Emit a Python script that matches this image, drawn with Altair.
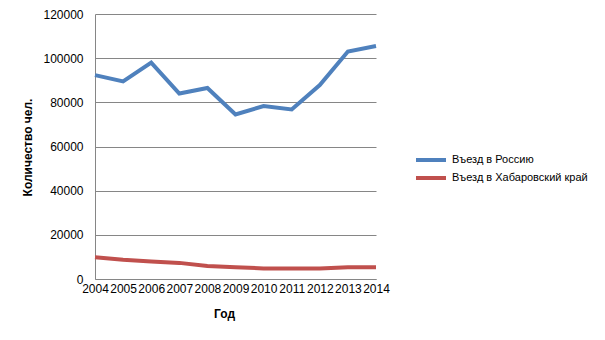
import altair as alt
import pandas as pd

years = [str(y) for y in range(2004, 2015)]
russia = [92300, 89500, 98000, 84000, 86500, 74500, 78300, 76800, 87800, 103000, 105500]
khabarovsk = [9800, 8700, 7900, 7300, 5900, 5300, 4800, 4800, 4800, 5300, 5300]
series_names = ["Въезд в Россию", "Въезд в Хабаровский край"]
colors = ["#4F81BD", "#C0504D"]

rows = []
for y, a, b in zip(years, russia, khabarovsk):
    rows.append({"Год": y, "Серия": series_names[0], "Значение": a})
    rows.append({"Год": y, "Серия": series_names[1], "Значение": b})
df = pd.DataFrame(rows)

font = "Liberation Sans"

chart = alt.Chart(df).mark_line(strokeWidth=4).encode(
    x=alt.X("Год:O", scale=alt.Scale(type="point", padding=0),
            axis=alt.Axis(title="Год", labelAngle=0, labelOverlap=False, ticks=False,
                          domainColor="#868686", labelFontSize=12, labelFont=font,
                          labelColor="#000000", labelPadding=4,
                          titleFont=font, titleFontSize=12, titleFontWeight="bold",
                          titleColor="#000000", titleX=129, titleY=34,
                          titleBaseline="middle")),
    y=alt.Y("Значение:Q", scale=alt.Scale(domain=[0, 120000], nice=False),
            axis=alt.Axis(title="Количество чел.", values=[0, 20000, 40000, 60000, 80000, 100000, 120000],
                          format="d",
                          ticks=False, domainColor="#868686", gridColor="#868686",
                          labelFontSize=12, labelFont=font, labelColor="#000000", labelPadding=12,
                          titleFont=font, titleFontSize=12, titleFontWeight="bold",
                          titleColor="#000000", titleX=-68, titleY=133,
                          titleBaseline="middle", titleAngle=270)),
    color=alt.Color("Серия:N", scale=alt.Scale(domain=series_names, range=colors),
                    legend=alt.Legend(title=None, orient="none", legendX=319, legendY=137,
                                      symbolType="stroke", symbolStrokeWidth=4, symbolSize=900,
                                      clipHeight=18, labelOffset=4,
                                      labelFont=font, labelFontSize=11, labelColor="#000000",
                                      rowPadding=0)),
).properties(
    width=281, height=265,
    autosize=alt.AutoSizeParams(type="none"),
    padding={"left": 95, "top": 14, "right": 229, "bottom": 61},
).configure_view(stroke=None).configure_axisX(grid=False)

chart.save("out.html", embed_options={"renderer": "svg", "actions": False})
